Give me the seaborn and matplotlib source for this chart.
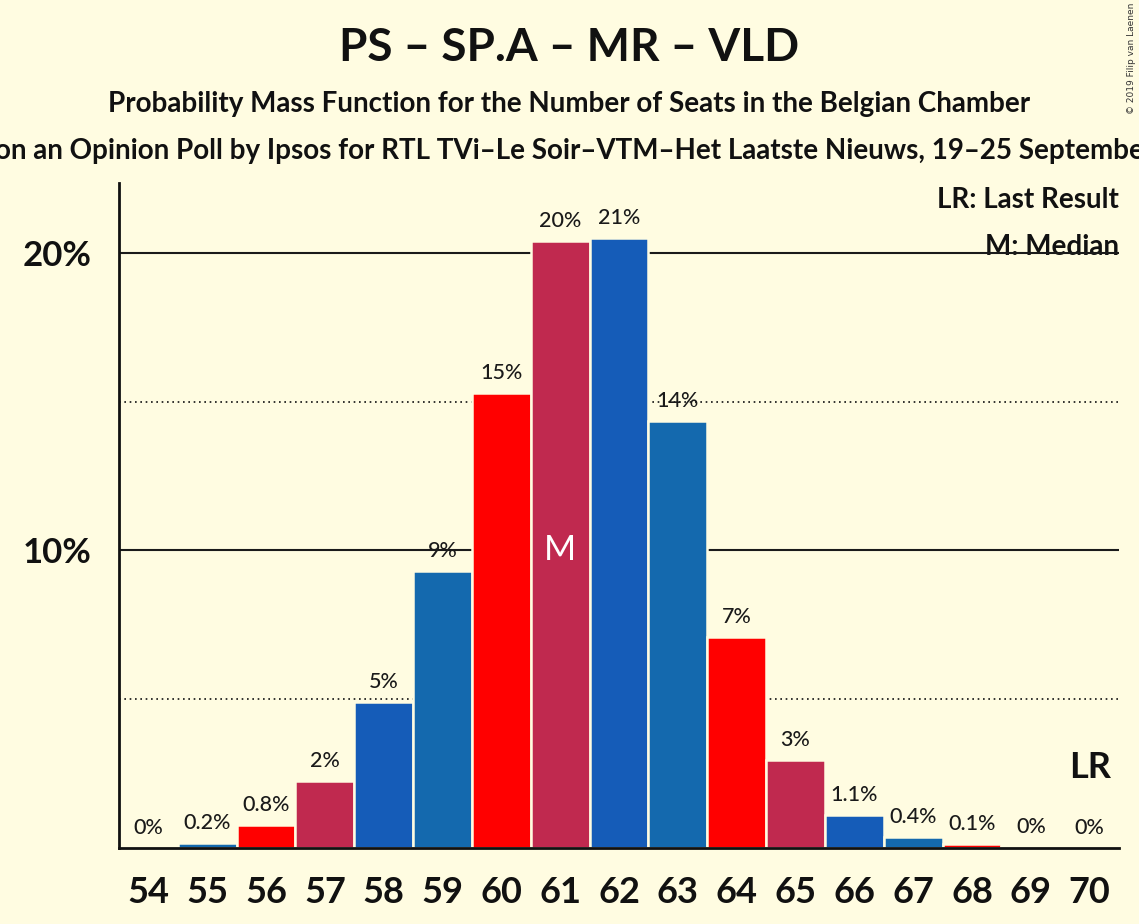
import matplotlib
matplotlib.use("Agg")
import matplotlib.pyplot as plt
import seaborn as sns
import pandas as pd

seats = [54, 55, 56, 57, 58, 59, 60, 61, 62, 63, 64, 65, 66, 67, 68, 69, 70]
probs = [0.0, 0.18, 0.77, 2.25, 4.9, 9.3, 15.3, 20.4, 20.5, 14.35, 7.1, 2.95, 1.1, 0.37, 0.12, 0.02, 0.01]
labels = ["0%", "0.2%", "0.8%", "2%", "5%", "9%", "15%", "20%", "21%", "14%", "7%", "3%",
          "1.1%", "0.4%", "0.1%", "0%", "0%"]
party_colors = ["#155CB8", "#1469AE", "#FF0000", "#C0294F"]  # MR, VLD, PS, SP.A cycle
bar_colors = [party_colors[i % 4] for i in range(len(seats))]
median_seat = 61
last_result_seat = 70
ytick_vals = [10, 20]
ytick_labels = ["10%", "20%"]

title = "PS – SP.A – MR – VLD"
subtitle = "Probability Mass Function for the Number of Seats in the Belgian Chamber"
subtitle2 = "Based on an Opinion Poll by Ipsos for RTL TVi–Le Soir–VTM–Het Laatste Nieuws, 19–25 September 2019"
copyright_txt = "© 2019 Filip van Laenen"

bg = "#FFFCE1"
sns.set_theme(style="white")
plt.rcParams["font.family"] = ["Lato", "DejaVu Sans"]

fig = plt.figure(figsize=(11.39, 9.24), dpi=100, facecolor=bg)
ax = fig.add_axes([119 / 1139, 1 - 848 / 924, 1000 / 1139, 665 / 924])
ax.set_facecolor(bg)

df = pd.DataFrame({"seats": [str(s) for s in seats], "p": probs})
sns.barplot(data=df, x="seats", y="p", hue="seats", palette=bar_colors, legend=False,
            width=1.0, saturation=1, edgecolor=bg, linewidth=1.8, ax=ax, zorder=3)

ax.set_xlim(-0.5, len(seats) - 0.5)
ax.set_ylim(0, 22.35)

for y in [5, 15]:
    ax.axhline(y, color="#111111", lw=1.2, ls=(0, (1, 2.2)), zorder=1)
for y in [10, 20]:
    ax.axhline(y, color="#1a1a1a", lw=1.5, zorder=1)

for i, (p, lab) in enumerate(zip(probs, labels)):
    ax.annotate(lab, (i, p), xytext=(0, 14.5), textcoords="offset points",
                ha="center", va="center", fontsize=15.5, fontweight="medium",
                color="#1a1a1a", zorder=5)

mi = seats.index(median_seat)
ax.text(mi, 10, "M", ha="center", va="center", color="white", fontsize=25, zorder=5)
li = seats.index(last_result_seat)
ax.text(li, 2.7, "LR", ha="center", va="center", color="#111111", fontsize=26,
        fontweight="bold", zorder=5)

ax.text(1.0, 0.974, "LR: Last Result", transform=ax.transAxes, ha="right", va="center",
        fontsize=20, fontweight="bold", color="#111111", zorder=0.5)
ax.text(1.0, 0.904, "M: Median", transform=ax.transAxes, ha="right", va="center",
        fontsize=20, fontweight="bold", color="#111111", zorder=0.5)

ax.set_yticks(ytick_vals)
ax.set_yticklabels(ytick_labels, fontsize=25, fontweight="bold", color="#111111")
ax.set_xticks(range(len(seats)))
ax.set_xticklabels([str(s) for s in seats], fontsize=26, fontweight="bold", color="#111111")
ax.tick_params(axis="x", length=0, pad=20)
ax.tick_params(axis="y", length=0, pad=20)
ax.set_xlabel("")
ax.set_ylabel("")

for s in ["top", "right"]:
    ax.spines[s].set_visible(False)
for s in ["left", "bottom"]:
    ax.spines[s].set_color("#111111")
    ax.spines[s].set_linewidth(2)
    ax.spines[s].set_zorder(6)

fig.text(0.5, 1 - 48 / 924, title, ha="center", va="center", fontsize=33,
         fontweight="bold", color="#111111")
fig.text(0.5, 1 - 104 / 924, subtitle, ha="center", va="center", fontsize=20,
         fontweight="bold", color="#111111")
fig.text(0.5, 1 - 151 / 924, subtitle2, ha="center", va="center", fontsize=20,
         fontweight="bold", color="#111111")
fig.text(1131 / 1139, 1 - 58 / 924, copyright_txt, ha="center", va="center",
         rotation=90, fontsize=6.5, color="#333333", family=["DejaVu Sans"])

fig.savefig("out.png", dpi=100, facecolor=bg)
